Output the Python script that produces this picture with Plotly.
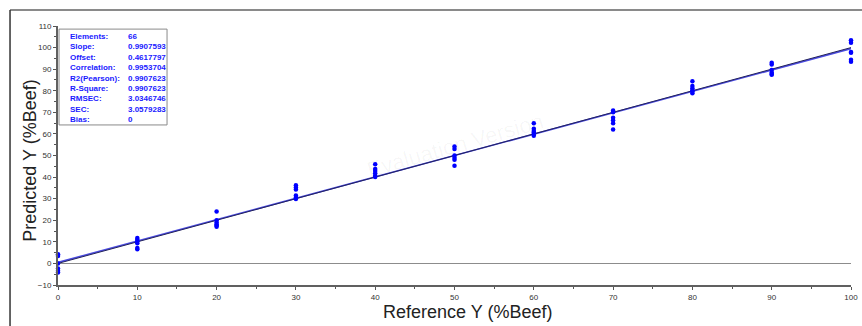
import plotly.graph_objects as go

# ---- data ----
levels = [0, 10, 20, 30, 40, 50, 60, 70, 80, 90, 100]
predicted = [
    [4.2, 3.4, 0.0, -2.4, -3.4, -4.2],
    [11.8, 11.0, 10.2, 9.4, 7.2, 6.6],
    [24.0, 20.0, 19.0, 18.2, 17.6, 17.0],
    [36.2, 35.2, 34.2, 31.5, 30.5, 29.8],
    [46.0, 43.8, 42.8, 41.8, 40.6, 40.0],
    [54.2, 53.0, 50.0, 49.0, 48.0, 45.2],
    [65.0, 62.4, 61.4, 60.6, 60.0, 59.2],
    [70.8, 70.0, 67.5, 66.3, 65.0, 62.0],
    [84.4, 82.2, 81.2, 80.2, 79.6, 78.8],
    [93.0, 92.2, 89.6, 88.4, 87.8, 87.4],
    [103.4, 102.2, 98.0, 97.6, 94.4, 93.4],
]
stat_labels = ["Elements:", "Slope:", "Offset:", "Correlation:", "R2(Pearson):",
               "R-Square:", "RMSEC:", "SEC:", "Bias:"]
stat_values = ["66", "0.9907593", "0.4617797", "0.9953704", "0.9907623",
               "0.9907623", "3.0346746", "3.0579283", "0"]
slope = 0.9907593
offset = 0.4617797
line_x = [0, 100]

ref_x = [lv for lv, vals in zip(levels, predicted) for _ in vals]
pred_y = [v for vals in predicted for v in vals]

fig = go.Figure()
fig.add_trace(go.Scatter(x=line_x, y=[slope * x + offset for x in line_x], mode="lines",
                         line=dict(color="#4a4ae0", width=1.6), cliponaxis=False,
                         hoverinfo="skip"))
fig.add_trace(go.Scatter(x=line_x, y=line_x, mode="lines",
                         line=dict(color="#22225a", width=1), cliponaxis=False,
                         hoverinfo="skip"))
fig.add_trace(go.Scatter(x=ref_x, y=pred_y, mode="markers",
                         marker=dict(color="#0000ff", size=4.5), cliponaxis=False))

axis_font = dict(family="Liberation Sans, Arial", size=8, color="#333333")
fig.update_xaxes(range=[0, 100], tickvals=levels, ticks="outside", ticklen=3,
                 tickcolor="#555", showline=True, linecolor="#606060", linewidth=2,
                 showgrid=False, zeroline=False, tickfont=axis_font, automargin=False,
                 minor=dict(dtick=5, ticks="outside", ticklen=2, tickcolor="#555"))
fig.update_yaxes(range=[-10, 110], tickvals=[-10, 0, 10, 20, 30, 40, 50, 60, 70, 80, 90, 100, 110],
                 ticks="outside", ticklen=3, tickcolor="#555", showline=True,
                 linecolor="#606060", linewidth=2, showgrid=False, zeroline=True,
                 zerolinecolor="#8c8c8c", zerolinewidth=1, tickfont=axis_font, automargin=False,
                 minor=dict(dtick=5, ticks="outside", ticklen=2, tickcolor="#555"))

shapes = [
    # frame
    dict(type="line", xref="paper", yref="paper", x0=-0.0605, x1=1.02, y0=1.0618, y1=1.0618,
         line=dict(color="#8a8a8a", width=2)),
    dict(type="line", xref="paper", yref="paper", x0=-0.0605, x1=-0.0605, y0=1.0618, y1=-0.2,
         line=dict(color="#333333", width=1.5)),
    # stats box
    dict(type="rect", xref="paper", yref="paper", x0=0.0013, x1=0.1375, y0=0.618, y1=0.988,
         line=dict(color="#8a8a8a", width=1), fillcolor="white"),
]

stat_font = dict(family="Liberation Sans, Arial", size=8, color="#1a1aff")
annotations = [
    dict(text="<b>" + "<br>".join(stat_labels) + "</b>", xref="paper", yref="paper",
         x=0.0126, y=0.984, xanchor="left", yanchor="top", align="left",
         showarrow=False, font=stat_font),
    dict(text="<b>" + "<br>".join(stat_values) + "</b>", xref="paper", yref="paper",
         x=0.0858, y=0.984, xanchor="left", yanchor="top", align="left",
         showarrow=False, font=stat_font),
    dict(text="Predicted Y (%Beef)", xref="paper", yref="paper", x=-0.0353, y=0.48,
         xanchor="center", yanchor="middle", textangle=-90, showarrow=False,
         font=dict(family="Liberation Sans, Arial", size=18, color="#222222")),
    dict(text="Reference Y (%Beef)", xref="paper", yref="paper", x=0.516, y=-0.103,
         xanchor="center", yanchor="middle", showarrow=False,
         font=dict(family="Liberation Sans, Arial", size=18, color="#222222")),
    dict(text="Evaluation Version", xref="paper", yref="paper", x=0.5, y=0.54,
         xanchor="center", yanchor="middle", textangle=-16, showarrow=False,
         font=dict(family="Liberation Sans, Arial", size=22, color="rgba(0,0,0,0.04)")),
]

fig.update_layout(width=862, height=326, margin=dict(l=58, r=11, t=26, b=41),
                  plot_bgcolor="white", paper_bgcolor="white", showlegend=False,
                  shapes=shapes, annotations=annotations)

fig.write_html("out.html", config={"displayModeBar": False},
               post_script="document.body.style.margin='0';document.body.style.overflow='hidden';")
